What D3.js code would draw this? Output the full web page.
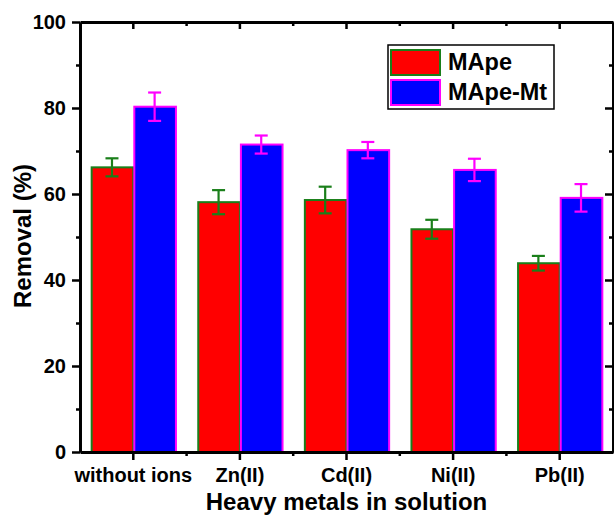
<!DOCTYPE html>
<html>
<head>
<meta charset="utf-8">
<script src="https://cdn.jsdelivr.net/npm/d3@7"></script>
<style>
  body { margin: 0; background: #fff; }
  text { font-family: "Liberation Sans", Arial, sans-serif; font-weight: bold; fill: #000; }
</style>
</head>
<body>
<div id="chart"></div>
<script>
const categories = ["without ions", "Zn(II)", "Cd(II)", "Ni(II)", "Pb(II)"];
const mape = [66.2, 58.1, 58.6, 51.8, 43.9];
const mapeErr = [2.1, 2.8, 3.1, 2.2, 1.7];
const mapeMt = [80.3, 71.5, 70.2, 65.6, 59.1];
const mapeMtErr = [3.3, 2.1, 1.9, 2.6, 3.2];
const yTicks = [0, 20, 40, 60, 80, 100];
const yMinor = [10, 30, 50, 70, 90];

const width = 614;
const height = 521;
const plotL = 80, plotR = 613, plotT = 22, plotB = 452;

const series = [
  { name: "MApe", values: mape, err: mapeErr, fill: "#ff0000", stroke: "#1a7f1a" },
  { name: "MApe-Mt", values: mapeMt, err: mapeMtErr, fill: "#0000ff", stroke: "#ff00ff" }
];

const svg = d3.select("#chart")
  .append("svg")
  .attr("width", width)
  .attr("height", height);

const x = d3.scaleBand()
  .domain(categories)
  .range([plotL, plotR])
  .paddingInner(0.2)
  .paddingOuter(0.1);

const xSub = d3.scaleBand()
  .domain(series.map(s => s.name))
  .range([0, x.bandwidth()]);

const y = d3.scaleLinear()
  .domain([0, 100])
  .range([plotB, plotT]);

// bars
series.forEach(s => {
  const g = svg.append("g");
  g.selectAll("rect")
    .data(categories)
    .enter()
    .append("rect")
    .attr("x", d => x(d) + xSub(s.name) + 1)
    .attr("y", (d, i) => y(s.values[i]))
    .attr("width", xSub.bandwidth() - 1)
    .attr("height", (d, i) => y(0) - y(s.values[i]))
    .attr("fill", s.fill)
    .attr("stroke", s.stroke)
    .attr("stroke-width", 2);
});

// error bars
series.forEach(s => {
  const g = svg.append("g")
    .attr("stroke", s.stroke)
    .attr("stroke-width", 2.2)
    .attr("fill", "none");
  categories.forEach((c, i) => {
    const cx = x(c) + xSub(s.name) + xSub.bandwidth() / 2;
    const hi = y(s.values[i] + s.err[i]);
    const lo = y(s.values[i] - s.err[i]);
    g.append("line").attr("x1", cx).attr("x2", cx).attr("y1", hi).attr("y2", lo);
    g.append("line").attr("x1", cx - 6.5).attr("x2", cx + 6.5).attr("y1", hi).attr("y2", hi);
    g.append("line").attr("x1", cx - 6.5).attr("x2", cx + 6.5).attr("y1", lo).attr("y2", lo);
  });
});

// axes
const styleAxis = g => {
  g.select(".domain").attr("stroke", "#000").attr("stroke-width", 2.8);
  g.selectAll(".tick line").attr("stroke", "#000").attr("stroke-width", 2.5);
  g.selectAll(".tick text").style("font-size", "20px");
};

svg.append("g")
  .attr("transform", `translate(${plotL},0)`)
  .call(d3.axisLeft(y).tickValues(yTicks).tickSize(8).tickPadding(6).tickSizeOuter(0))
  .call(styleAxis);

svg.append("g")
  .attr("transform", `translate(${plotL},0)`)
  .call(d3.axisLeft(y).tickValues(yMinor).tickSize(4).tickFormat("").tickSizeOuter(0))
  .call(styleAxis);

svg.append("g")
  .attr("transform", `translate(${plotR},0)`)
  .call(d3.axisRight(y).tickValues(yTicks).tickSize(-8).tickFormat("").tickSizeOuter(0))
  .call(styleAxis);

svg.append("g")
  .attr("transform", `translate(${plotR},0)`)
  .call(d3.axisRight(y).tickValues(yMinor).tickSize(-4).tickFormat("").tickSizeOuter(0))
  .call(styleAxis);

svg.append("g")
  .attr("transform", `translate(0,${plotB})`)
  .call(d3.axisBottom(x).tickSize(8).tickPadding(8).tickSizeOuter(0))
  .call(styleAxis);

svg.append("g")
  .attr("transform", `translate(0,${plotT})`)
  .call(d3.axisTop(x).tickSize(-7).tickFormat("").tickSizeOuter(0))
  .call(styleAxis);

// minor ticks between categories
const minorX = categories.slice(1).map(c => x(c) - x.step() * x.paddingInner() / 2);
svg.append("g")
  .selectAll("line")
  .data(minorX)
  .enter()
  .append("line")
  .attr("x1", d => d).attr("x2", d => d)
  .attr("y1", plotB).attr("y2", plotB + 4)
  .attr("stroke", "#000").attr("stroke-width", 2.5);
svg.append("g")
  .selectAll("line")
  .data(minorX)
  .enter()
  .append("line")
  .attr("x1", d => d).attr("x2", d => d)
  .attr("y1", plotT).attr("y2", plotT + 4)
  .attr("stroke", "#000").attr("stroke-width", 2.5);

// axis titles
svg.append("text")
  .attr("transform", `translate(31,236) rotate(-90)`)
  .attr("text-anchor", "middle")
  .style("font-size", "24px")
  .text("Removal (%)");

svg.append("text")
  .attr("x", (plotL + plotR) / 2)
  .attr("y", 510)
  .attr("text-anchor", "middle")
  .style("font-size", "24px")
  .text("Heavy metals in solution");

// legend
const legend = svg.append("g").attr("transform", "translate(388,45)");
legend.append("rect")
  .attr("width", 166)
  .attr("height", 64)
  .attr("fill", "#fff")
  .attr("stroke", "#000")
  .attr("stroke-width", 1.5);

const item = legend.selectAll("g.item")
  .data(series)
  .enter()
  .append("g")
  .attr("class", "item")
  .attr("transform", (d, i) => `translate(3,${5 + i * 30})`);

item.append("rect")
  .attr("width", 49)
  .attr("height", 25)
  .attr("fill", d => d.fill)
  .attr("stroke", d => d.stroke)
  .attr("stroke-width", 2);

item.append("text")
  .attr("x", 57)
  .attr("y", 20)
  .style("font-size", "23.5px")
  .text(d => d.name);
</script>
</body>
</html>
